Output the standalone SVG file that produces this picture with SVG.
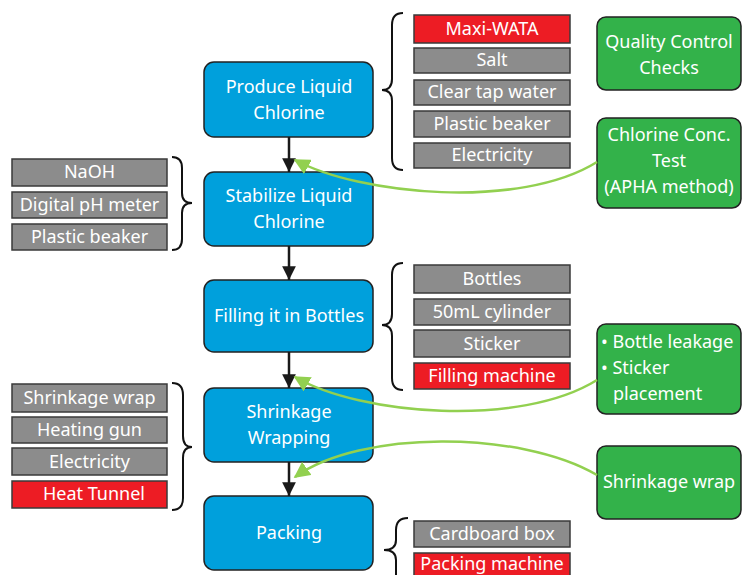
<svg xmlns="http://www.w3.org/2000/svg" width="742" height="575" viewBox="0 0 742 575">
  <style>
    .step { fill: #00A0DC; stroke: #222; stroke-width: 1.5; }
    .qc { fill: #33B24A; stroke: #222; stroke-width: 1.5; }
    .item { fill: #8C8C8C; stroke: #3a3a3a; stroke-width: 1.5; }
    .key { fill: #ED1C24; stroke: #3a3a3a; stroke-width: 1.5; }
    .brace { fill: none; stroke: #111; stroke-width: 2; }
    .flow { stroke: #1a1a1a; stroke-width: 2.5; fill: none; }
    .check { stroke: #92D050; stroke-width: 2.5; fill: none; }
    text { font-family: "Noto Sans", "Open Sans", sans-serif; fill: #fff; text-anchor: middle; }
    .t18 { font-size: 18px; }
    .ti { font-size: 18px; }
  </style>
  <defs>
    <marker id="blk" viewBox="0 0 10 10" refX="10" refY="5" markerWidth="5.5" markerHeight="5.5" orient="auto" markerUnits="strokeWidth">
      <path d="M0,0 L10,5 L0,10 Z" fill="#1a1a1a"/>
    </marker>
    <marker id="grn" viewBox="0 0 10 10" refX="9" refY="5" markerWidth="6.5" markerHeight="6.5" orient="auto" markerUnits="strokeWidth">
      <path d="M0,0 L10,5 L0,10 Z" fill="#92D050"/>
    </marker>
  </defs>

  <!-- main steps -->
  <g id="produce">
    <rect class="step" x="204" y="62" width="169" height="75" rx="10"/>
    <text class="t18" x="289" y="93">Produce Liquid</text>
    <text class="t18" x="289" y="119">Chlorine</text>
  </g>
  <g id="stabilize">
    <rect class="step" x="204" y="172" width="169" height="74" rx="10"/>
    <text class="t18" x="289" y="202">Stabilize Liquid</text>
    <text class="t18" x="289" y="228">Chlorine</text>
  </g>
  <g id="filling">
    <rect class="step" x="204" y="280" width="169" height="72" rx="10"/>
    <text class="t18" x="289" y="322">Filling it in Bottles</text>
  </g>
  <g id="shrinkage">
    <rect class="step" x="204" y="388" width="169" height="74" rx="10"/>
    <text class="t18" x="289" y="418">Shrinkage</text>
    <text class="t18" x="289" y="444">Wrapping</text>
  </g>
  <g id="packing">
    <rect class="step" x="204" y="496" width="169" height="74" rx="10"/>
    <text class="t18" x="289" y="539">Packing</text>
  </g>

  <!-- inputs for producing liquid chlorine -->
  <g id="produce-inputs">
    <path class="brace" d="M403,13 Q392,13 392,25 L392,79 Q392,90 382,90 Q392,90 392,101 L392,158 Q392,170 403,170"/>
    <rect class="key" x="414" y="15" width="156" height="28"/>
    <text class="ti" x="492" y="35">Maxi-WATA</text>
    <rect class="item" x="414" y="48" width="156" height="25"/>
    <text class="ti" x="492" y="66">Salt</text>
    <rect class="item" x="414" y="80" width="156" height="25"/>
    <text class="ti" x="492" y="98">Clear tap water</text>
    <rect class="item" x="414" y="111" width="156" height="26"/>
    <text class="ti" x="492" y="130">Plastic beaker</text>
    <rect class="item" x="414" y="143" width="156" height="25"/>
    <text class="ti" x="492" y="161">Electricity</text>
  </g>

  <!-- inputs for stabilizing -->
  <g id="stabilize-inputs">
    <path class="brace" d="M172,157 Q182,157 182,168 L182,193 Q182,203 192,203 Q182,203 182,213 L182,239 Q182,250 172,250"/>
    <rect class="item" x="12" y="159" width="155" height="27"/>
    <text class="ti" x="89.5" y="178">NaOH</text>
    <rect class="item" x="12" y="192" width="155" height="26"/>
    <text class="ti" x="89.5" y="211">Digital pH meter</text>
    <rect class="item" x="12" y="224" width="155" height="26"/>
    <text class="ti" x="89.5" y="243">Plastic beaker</text>
  </g>

  <!-- inputs for filling -->
  <g id="filling-inputs">
    <path class="brace" d="M403,263 Q392,263 392,275 L392,314 Q392,325 382,325 Q392,325 392,336 L392,378 Q392,390 403,390"/>
    <rect class="item" x="414" y="265" width="156" height="28"/>
    <text class="ti" x="492" y="285">Bottles</text>
    <rect class="item" x="414" y="299" width="156" height="26"/>
    <text class="ti" x="492" y="318">50mL cylinder</text>
    <rect class="item" x="414" y="330" width="156" height="27"/>
    <text class="ti" x="492" y="350">Sticker</text>
    <rect class="key" x="414" y="363" width="156" height="26"/>
    <text class="ti" x="492" y="382">Filling machine</text>
  </g>

  <!-- inputs for shrink wrapping -->
  <g id="shrinkage-inputs">
    <path class="brace" d="M172,383 Q183,383 183,395 L183,436 Q183,447 192,447 Q183,447 183,458 L183,498 Q183,510 172,510"/>
    <rect class="item" x="12" y="384" width="155" height="28"/>
    <text class="ti" x="89.5" y="404">Shrinkage wrap</text>
    <rect class="item" x="12" y="417" width="155" height="26"/>
    <text class="ti" x="89.5" y="436">Heating gun</text>
    <rect class="item" x="12" y="448" width="155" height="27"/>
    <text class="ti" x="89.5" y="468">Electricity</text>
    <rect class="key" x="12" y="481" width="155" height="27"/>
    <text class="ti" x="94" y="500">Heat Tunnel</text>
  </g>

  <!-- inputs for packing -->
  <g id="packing-inputs">
    <path class="brace" d="M408,518 Q396,518 396,530 L396,540 Q396,550 384,550 Q396,550 396,560 L396,580"/>
    <rect class="item" x="414" y="521" width="156" height="26"/>
    <text class="ti" x="492" y="540">Cardboard box</text>
    <rect class="key" x="414" y="553" width="156" height="26"/>
    <text class="ti" x="492" y="570">Packing machine</text>
  </g>

  <!-- quality control checks -->
  <g id="qc-title">
    <rect class="qc" x="597" y="17" width="144" height="73" rx="9"/>
    <text class="t18" x="669" y="48">Quality Control</text>
    <text class="t18" x="669" y="74">Checks</text>
  </g>
  <g id="qc-chlorine">
    <rect class="qc" x="597" y="118" width="144" height="90" rx="9"/>
    <text class="t18" x="669" y="141">Chlorine Conc.</text>
    <text class="t18" x="669" y="167">Test</text>
    <text class="t18" x="669" y="193">(APHA method)</text>
  </g>
  <g id="qc-bottle">
    <rect class="qc" x="597" y="324" width="144" height="90" rx="9"/>
    <text class="t18" x="601" y="348" style="text-anchor:start">• Bottle leakage</text>
    <text class="t18" x="601" y="374" style="text-anchor:start">• Sticker</text>
    <text class="t18" x="613" y="400" style="text-anchor:start">placement</text>
  </g>
  <g id="qc-wrap">
    <rect class="qc" x="597" y="446" width="144" height="73" rx="9"/>
    <text class="t18" x="669" y="488">Shrinkage wrap</text>
  </g>

  <!-- process flow arrows and quality-check links -->
  <g id="connectors">
    <line class="flow" x1="289" y1="137" x2="289" y2="172" marker-end="url(#blk)"/>
    <line class="flow" x1="289" y1="246" x2="289" y2="280" marker-end="url(#blk)"/>
    <line class="flow" x1="289" y1="352" x2="289" y2="388" marker-end="url(#blk)"/>
    <line class="flow" x1="289" y1="462" x2="289" y2="496" marker-end="url(#blk)"/>
    <path class="check" d="M597,162 C520,210 360,195 295,160" marker-end="url(#grn)"/>
    <path class="check" d="M597,380 C520,428 360,415 295,377" marker-end="url(#grn)"/>
    <path class="check" d="M597,475 C520,430 360,430 295,477" marker-end="url(#grn)"/>
  </g>
</svg>
